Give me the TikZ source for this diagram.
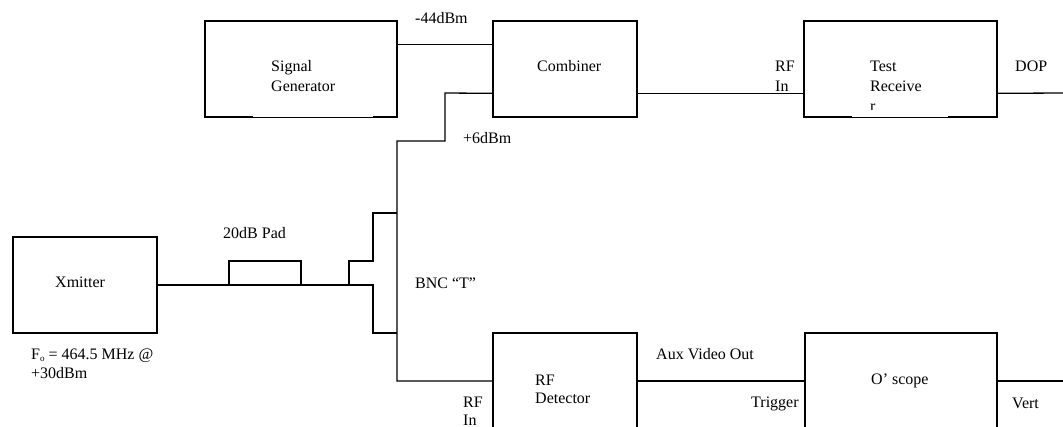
\documentclass[tikz,border=0pt]{standalone}
\usepackage{fontspec}
\setmainfont{Liberation Serif}
\usetikzlibrary{calc}
\begin{document}
\begin{tikzpicture}[x=1pt,y=-1pt,
  box/.style={draw, line width=1.3pt, rectangle, inner sep=0pt, minimum height=96pt},
  wire/.style={line width=1.3pt},
  lbl/.style={anchor=base west, inner sep=0pt, font=\fontsize{16}{20}\selectfont}]
\useasboundingbox (0,0) rectangle (1063,426);
\clip (0,0) rectangle (1063,426);
% boxes
\node[box, minimum width=192pt] (sg) at (301,69) {};
\node[box, minimum width=144pt] (comb) at (565,69) {};
\node[box, minimum width=193pt] (tr) at (900.5,69) {};
\node[box, minimum width=144pt] (xm) at (85,285) {};
\node[box, minimum width=144pt] (rfd) at (565,381) {};
\node[box, minimum width=192pt] (osc) at (901,381) {};
% thin spots on bottom edges (text box overlap)
\fill[white] (253,116.2) rectangle (373,117.0);
\fill[white] (852,116.2) rectangle (948,117.0);
% free ends and BNC T corners
\coordinate (trout) at (1063,93);
\coordinate (oscout) at (1063,381);
\coordinate (c1) at (445,93);
\coordinate (c2) at (445,141);
\coordinate (c3) at (397,141);
\coordinate (c4) at (397,381);
\coordinate (t1) at (373,285);
\coordinate (t2) at (373,333);
\coordinate (t3) at (397,333);
\coordinate (u1) at (349,285);
\coordinate (u2) at (349,261);
\coordinate (u3) at (373,261);
\coordinate (u4) at (373,213);
\coordinate (u5) at (397,213);
\coordinate (p1) at (229,285);
\coordinate (p2) at (229,261);
\coordinate (p3) at (301,261);
\coordinate (p4) at (301,285);
% connectors
\draw[wire] ($(sg.north east)!0.25!(sg.south east)$) -- ($(comb.north west)!0.25!(comb.south west)$);
\draw[wire] ($(comb.north east)!0.75!(comb.south east)$) -- ($(tr.north west)!0.75!(tr.south west)$);
\draw[wire] ($(tr.north east)!0.75!(tr.south east)$) -- (trout);
\draw[wire] ($(comb.north west)!0.75!(comb.south west)$) -- (c1) -- (c2) -- (c3) -- (c4) -- (rfd.west);
\draw[wire] (xm.east) -- (t1) -- (t2) -- (t3);
\draw[wire] (u1) -- (u2) -- (u3) -- (u4) -- (u5);
\draw[wire] (p1) -- (p2) -- (p3) -- (p4);
\draw[wire] (rfd.east) -- (osc.west);
\draw[wire] (osc.east) -- (oscout);
% labels
\node[lbl] (l44) at (415,23) {-44dBm};
\node[lbl] (sg1) at (271,71) {Signal};
\node[lbl] (sg2) at (271,91) {Generator};
\node[lbl] (cb) at (537,71) {Combiner};
\node[lbl] (rf1) at (775,71) {RF};
\node[lbl] (in1) at (775,91) {In};
\node[lbl] (tr1) at (870,71) {Test};
\node[lbl] (tr2) at (870,91) {Receive};
\begin{scope}
\clip (860,95) rectangle (960,109.5);
\node[lbl] (tr3) at (870,111) {r};
\end{scope}
\node[lbl] (dop) at (1015,71) {DOP};
\node[lbl] (p6) at (463,143) {+6dBm};
\node[lbl] (pad) at (223,238) {20dB Pad};
\node[lbl] (xmt) at (55,287) {Xmitter};
\node[lbl] (bnc) at (415,288) {BNC “T”};
\node[lbl] (fo) at (31,359) {F\raisebox{-2.5pt}{\fontsize{9}{9}\selectfont o} = 464.5 MHz @};
\node[lbl] (p30) at (31,378) {+30dBm};
\node[lbl] (rf2) at (463,407) {RF};
\node[lbl] (in2) at (463,425) {In};
\node[lbl] (rd1) at (535,385) {RF};
\node[lbl] (rd2) at (535,403) {Detector};
\node[lbl] (aux) at (656,359) {Aux Video Out};
\node[lbl] (trg) at (751,407) {Trigger};
\node[lbl] (os) at (871,384) {O’ scope};
\node[lbl] (vert) at (1012,408) {Vert};
\end{tikzpicture}
\end{document}
